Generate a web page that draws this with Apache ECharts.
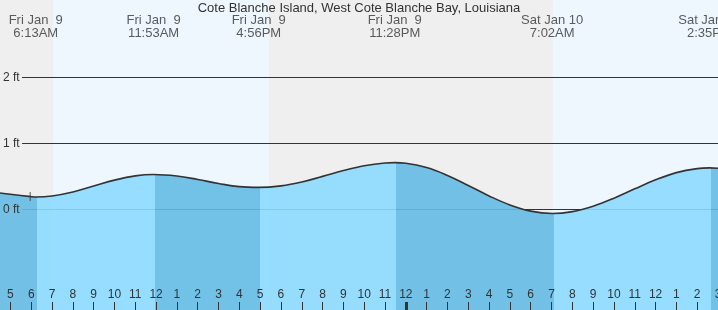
<!DOCTYPE html>
<html><head><meta charset="utf-8">
<script src="https://cdn.jsdelivr.net/npm/echarts@6/dist/echarts.min.js"></script>
<style>html,body{margin:0;padding:0;background:#efefef}#c{width:718px;height:310px}</style>
</head><body><div id="c"></div>
<script>
const chartTitle = 'Cote Blanche Island, West Cote Blanche Bay, Louisiana';
// hours since midnight Fri Jan 9 (local)
const tideHours = [4.5, 5, 6, 6.217, 7, 8, 9, 10, 11, 11.883, 13, 14, 15, 16, 16.933, 18, 19, 20, 21, 22, 23, 23.467, 24, 25, 26, 27, 28, 29, 30, 31.033, 32, 33, 34, 35, 36, 37, 38, 38.583, 39];
const tideFeet  = [0.25, 0.23, 0.195, 0.19, 0.205, 0.265, 0.355, 0.445, 0.51, 0.53, 0.507, 0.455, 0.394, 0.346, 0.335, 0.358, 0.416, 0.502, 0.591, 0.664, 0.705, 0.71, 0.701, 0.635, 0.516, 0.365, 0.206, 0.069, -0.025, -0.06, -0.032, 0.05, 0.171, 0.313, 0.45, 0.559, 0.62, 0.63, 0.625];
const extremeHours = [6.217, 11.883, 16.933, 23.467, 31.033, 38.583];
const extremeDates = ['Fri Jan  9', 'Fri Jan  9', 'Fri Jan  9', 'Fri Jan  9', 'Sat Jan 10', 'Sat Jan 10'];
const extremeTimes = ['6:13AM', '11:53AM', '4:56PM', '11:28PM', '7:02AM', '2:35PM'];
const sunriseHours = [7.05, 31.05];
const sunsetHours = [17.42];
const hourTicks = [5,6,7,8,9,10,11,12,13,14,15,16,17,18,19,20,21,22,23,24,25,26,27,28,29,30,31,32,33,34,35,36,37,38,39];
const midnightTicks = [24];
const feetTicks = [0, 1, 2];
const nowHour = 5.95;
const nowFeet = 0.197;

const X_MIN = 4.5, X_MAX = 39;
const Y_MIN = -1.5227, Y_MAX = 3.1743;
const GRID_START = 5.56;
const LABEL_LEVEL = 2.765;
const SHADE_SHIFT = 0.08;
const FONT = '"Liberation Sans", Arial, sans-serif';
const DARK = '#65bbe5', LIGHT = '#8cdaff';

const tideData = tideHours.map((h, i) => [h, tideFeet[i]]);
const dayBands = [[sunriseHours[0], sunsetHours[0]], [sunriseHours[1], X_MAX]];

// falling = dark, rising = light
const pieces = [];
let prev = null;
extremeHours.forEach((h, i) => {
  const falling = (i % 2 === 0);
  const p = { lt: h + SHADE_SHIFT, color: falling ? DARK : LIGHT };
  if (prev !== null) p.gte = prev;
  pieces.push(p);
  prev = h + SHADE_SHIFT;
});
pieces.push({ gte: prev, color: DARK });

const series = [];
series.push({
  type: 'line', z: 1, silent: true, symbol: 'none', data: [[X_MIN, Y_MIN]],
  markArea: { silent: true, itemStyle: { color: '#eef7fe' },
    data: dayBands.map(b => [{ xAxis: b[0] }, { xAxis: b[1] }]) }
});
feetTicks.forEach(v => series.push({
  type: 'line', z: 2, silent: true, symbol: 'none',
  data: [[GRID_START, v], [X_MAX, v]],
  lineStyle: { color: '#333', width: 1 }
}));
const areaIndex = series.length;
series.push({
  type: 'line', z: 3, silent: true, showSymbol: false, symbol: 'none', smooth: 0.4,
  data: tideData, lineStyle: { width: 0 },
  areaStyle: { opacity: 0.9, origin: 'start' }
});
series.push({
  type: 'line', z: 4, silent: true, showSymbol: false, symbol: 'none', smooth: 0.4,
  data: tideData, lineStyle: { color: '#333', width: 1.6 }
});
series.push({
  type: 'scatter', z: 5, silent: true, symbolSize: 1, itemStyle: { color: 'rgba(0,0,0,0)' },
  data: extremeHours.map((h, i) => ({ value: [h, LABEL_LEVEL], label: { formatter: extremeDates[i] + '\n' + extremeTimes[i] } })),
  label: { show: true, position: 'inside', fontSize: 13, lineHeight: 13, color: '#333', fontFamily: FONT }
});
series.push({
  type: 'scatter', z: 6, silent: true,
  symbol: 'path://M3,0h1v9h-1zM0,4h7v1h-7z', symbolSize: [7, 9],
  itemStyle: { color: '#333' },
  data: [[nowHour, nowFeet]]
});

const chart = echarts.init(document.getElementById('c'), null, { renderer: 'canvas' });
chart.setOption({
  animation: false,
  backgroundColor: '#efefef',
  textStyle: { fontFamily: FONT },
  title: { text: chartTitle, left: 'center', top: 2, padding: 0,
    textStyle: { fontSize: 13, fontWeight: 'normal', color: '#333', fontFamily: FONT } },
  grid: { left: 0, right: 0, top: 0, bottom: 0, containLabel: false, outerBoundsMode: 'none' },
  visualMap: { show: false, type: 'piecewise', dimension: 0, seriesIndex: areaIndex, pieces: pieces },
  xAxis: [{
    type: 'value', min: X_MIN, max: X_MAX, position: 'bottom', z: 10,
    axisLine: { show: false, onZero: false }, splitLine: { show: false },
    axisTick: { show: true, inside: true, length: 8, customValues: hourTicks, lineStyle: { color: '#333', width: 1 } },
    axisLabel: { show: true, inside: true, margin: 9, customValues: hourTicks, hideOverlap: false,
      formatter: v => String((Math.round(v) % 12) || 12), fontSize: 12, color: '#333', fontFamily: FONT }
  }, {
    type: 'value', min: X_MIN, max: X_MAX, position: 'bottom', z: 10,
    axisLine: { show: false, onZero: false }, splitLine: { show: false }, axisLabel: { show: false },
    axisTick: { show: true, inside: true, length: 8, customValues: midnightTicks, lineStyle: { color: '#333', width: 3 } }
  }],
  yAxis: {
    type: 'value', min: Y_MIN, max: Y_MAX, z: 10,
    axisLine: { show: false, onZero: false }, axisTick: { show: false }, splitLine: { show: false },
    axisLabel: { show: true, inside: true, margin: 3, customValues: feetTicks, formatter: '{value} ft',
      fontSize: 12, color: '#333', fontFamily: FONT }
  },
  series: series
});
</script></body></html>
